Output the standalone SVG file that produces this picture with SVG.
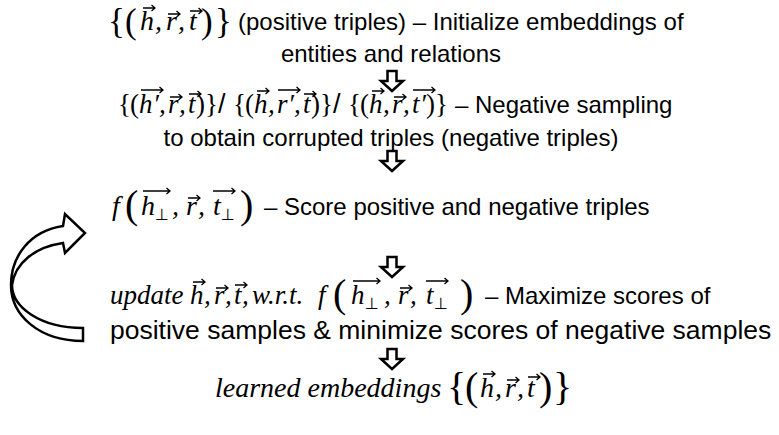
<svg xmlns="http://www.w3.org/2000/svg" xmlns:xlink="http://www.w3.org/1999/xlink" width="779" height="435" viewBox="0 0 779 435">
<style>
.t{font-family:"Liberation Sans",Arial,sans-serif;font-size:24px;fill:#000}
.m{font-family:"Liberation Serif","DejaVu Serif",serif;font-style:italic;font-size:28px;fill:#000}
.m27{font-size:27px}
.d{font-style:normal}
.big{font-size:40px}
.b1{font-size:35px}
.sub{font-family:"DejaVu Sans",sans-serif;font-style:normal;font-size:16px}
.sl{font-family:"Liberation Sans",Arial,sans-serif;font-style:normal}
.v{stroke:#000;stroke-width:1.3;fill:none}
.ba{fill:#fff;stroke:#000;stroke-width:2.5;stroke-linejoin:miter}
</style>
<defs>
<path id="va" class="v" d="M0,0 H12 M8.5,-3 L12,0 L8.5,3"/>
<path id="vb" class="v" d="M0,0 H22 M18.5,-3 L22,0 L18.5,3"/>
<path id="vc" class="v" d="M0,0 H27 M23.5,-3 L27,0 L23.5,3"/>
<path id="da" class="ba" d="M-4.5,0 H4.5 V10 H11 L0,20 L-11,10 H-4.5 Z"/>
</defs>
<rect width="779" height="435" fill="#fff"/>

<g id="connectors">
<use xlink:href="#da" x="392" y="71"/>
<use xlink:href="#da" x="392" y="151"/>
<use xlink:href="#da" x="392" y="257"/>
<use xlink:href="#da" x="392" y="349"/>
<path id="loop" class="ba" d="M63,226 L65,214 L85,233 L65,253 L63,243 C35,247 15,263 12,285 C12,307 40,328 83,328 L83,341 C40,341 11,316 11,285 C11,256 30,231 63,226 Z"/>
</g>

<g id="step1">
<text class="m"><tspan class="d b1" x="108" y="33">{</tspan><tspan class="d b1" x="125" y="33">(</tspan><tspan x="140" y="30">h</tspan><tspan x="155" y="30">,</tspan><tspan x="166" y="30">r</tspan><tspan x="178" y="30">,</tspan><tspan x="189" y="30">t</tspan><tspan class="d b1" x="201" y="33">)</tspan><tspan class="d b1" x="215" y="33">}</tspan></text>
<use xlink:href="#va" x="143" y="8"/><use xlink:href="#va" x="168" y="14"/><use xlink:href="#va" x="190" y="11"/>
<text class="t" x="238" y="30">(positive triples) – Initialize embeddings of</text>
<text class="t" x="391" y="62" text-anchor="middle">entities and relations</text>
</g>

<g id="step2">
<text class="m m27"><tspan class="d" x="118" y="113">{</tspan><tspan class="d" x="130" y="113">(</tspan><tspan x="139" y="113">h</tspan><tspan x="153" y="113">′</tspan><tspan x="159" y="113">,</tspan><tspan x="168" y="113">r</tspan><tspan x="179" y="113">,</tspan><tspan x="188" y="113">t</tspan><tspan class="d" x="196" y="113">)</tspan><tspan class="d" x="205" y="113">}</tspan><tspan class="sl" x="218" y="113">/</tspan><tspan class="d" x="233" y="113">{</tspan><tspan class="d" x="245" y="113">(</tspan><tspan x="254" y="113">h</tspan><tspan x="268" y="113">,</tspan><tspan x="277" y="113">r</tspan><tspan x="288" y="113">′</tspan><tspan x="294" y="113">,</tspan><tspan x="303" y="113">t</tspan><tspan class="d" x="311" y="113">)</tspan><tspan class="d" x="320" y="113">}</tspan><tspan class="sl" x="333" y="113">/</tspan><tspan class="d" x="348" y="113">{</tspan><tspan class="d" x="360" y="113">(</tspan><tspan x="369" y="113">h</tspan><tspan x="383" y="113">,</tspan><tspan x="392" y="113">r</tspan><tspan x="403" y="113">,</tspan><tspan x="412" y="113">t</tspan><tspan x="420" y="113">′</tspan><tspan class="d" x="426" y="113">)</tspan><tspan class="d" x="435" y="113">}</tspan></text>
<use xlink:href="#vb" x="141" y="90"/><use xlink:href="#va" x="170" y="97"/><use xlink:href="#va" x="189" y="94"/>
<use xlink:href="#va" x="257" y="91"/><use xlink:href="#vb" x="278" y="90"/><use xlink:href="#va" x="304" y="94"/>
<use xlink:href="#va" x="372" y="91"/><use xlink:href="#va" x="394" y="97"/><use xlink:href="#vb" x="413" y="90"/>
<text class="t" x="455" y="113">– Negative sampling</text>
<text class="t" x="391" y="146" text-anchor="middle">to obtain corrupted triples (negative triples)</text>
</g>

<g id="step3">
<text class="m"><tspan x="112" y="215">f</tspan><tspan class="d big" x="125" y="218">(</tspan><tspan x="141" y="215">h</tspan><tspan class="sub" x="155" y="220">⊥</tspan><tspan x="172" y="215">,</tspan><tspan x="186" y="215">r</tspan><tspan x="198" y="215">,</tspan><tspan x="213" y="215">t</tspan><tspan class="sub" x="221" y="220">⊥</tspan><tspan class="d big" x="240" y="218">)</tspan></text>
<use xlink:href="#vc" x="143" y="191"/><use xlink:href="#va" x="188" y="198"/><use xlink:href="#vb" x="213" y="191"/>
<text class="t" x="264" y="215">– Score positive and negative triples</text>
</g>

<g id="step4">
<text class="m m27"><tspan x="110" y="304">update</tspan><tspan x="190" y="304">h</tspan><tspan x="204" y="304">,</tspan><tspan x="214" y="304">r</tspan><tspan x="225" y="304">,</tspan><tspan x="234" y="304">t</tspan><tspan x="242" y="304">,</tspan><tspan x="252" y="304">w.r.t.</tspan><tspan x="318" y="304">f</tspan><tspan class="d big" x="333" y="307">(</tspan><tspan x="351" y="304">h</tspan><tspan class="sub" x="365" y="309">⊥</tspan><tspan x="384" y="304">,</tspan><tspan x="398" y="304">r</tspan><tspan x="410" y="304">,</tspan><tspan x="426" y="304">t</tspan><tspan class="sub" x="434" y="309">⊥</tspan><tspan class="d big" x="460" y="307">)</tspan></text>
<use xlink:href="#va" x="193" y="282"/><use xlink:href="#va" x="216" y="288"/><use xlink:href="#va" x="235" y="285"/>
<use xlink:href="#vc" x="353" y="281"/><use xlink:href="#va" x="400" y="288"/><use xlink:href="#vb" x="426" y="281"/>
<text class="t" x="485" y="304">– Maximize scores of</text>
<text class="t" x="110" y="339" style="font-size:26.5px">positive samples &amp; minimize scores of negative samples</text>
</g>

<g id="step5">
<text class="m"><tspan x="215" y="397">learned embeddings</tspan><tspan class="d big" x="447" y="400">{</tspan><tspan class="d big" x="465" y="400">(</tspan><tspan x="480" y="397">h</tspan><tspan x="495" y="397">,</tspan><tspan x="505" y="397">r</tspan><tspan x="517" y="397">,</tspan><tspan x="527" y="397">t</tspan><tspan class="d big" x="539" y="400">)</tspan><tspan class="d big" x="553" y="400">}</tspan></text>
<use xlink:href="#va" x="483" y="374"/><use xlink:href="#va" x="507" y="380"/><use xlink:href="#va" x="528" y="377"/>
</g>
</svg>
